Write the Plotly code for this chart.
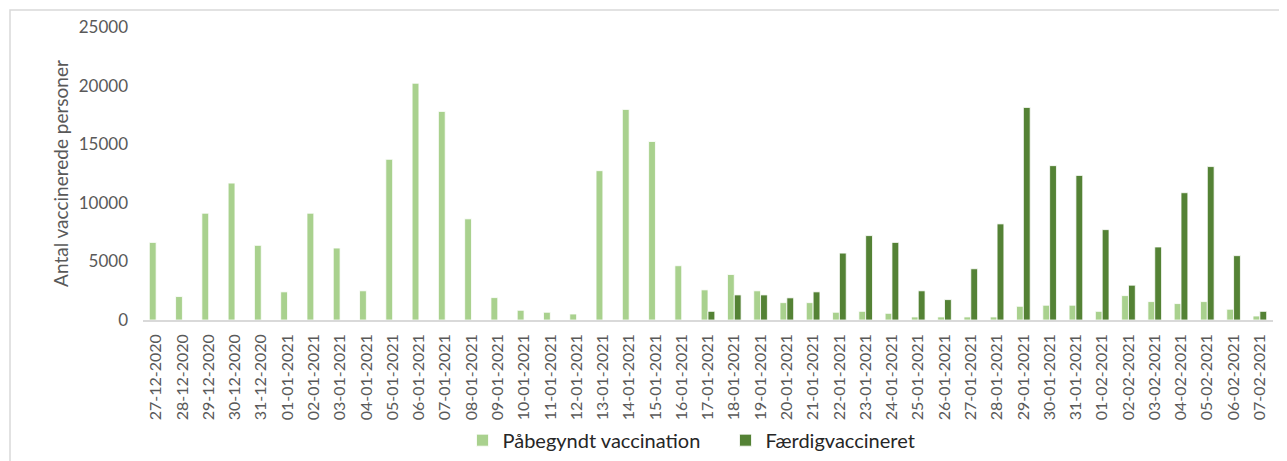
import plotly.graph_objects as go

dates = ["27-12-2020", "28-12-2020", "29-12-2020", "30-12-2020", "31-12-2020",
         "01-01-2021", "02-01-2021", "03-01-2021", "04-01-2021", "05-01-2021",
         "06-01-2021", "07-01-2021", "08-01-2021", "09-01-2021", "10-01-2021",
         "11-01-2021", "12-01-2021", "13-01-2021", "14-01-2021", "15-01-2021",
         "16-01-2021", "17-01-2021", "18-01-2021", "19-01-2021", "20-01-2021",
         "21-01-2021", "22-01-2021", "23-01-2021", "24-01-2021", "25-01-2021",
         "26-01-2021", "27-01-2021", "28-01-2021", "29-01-2021", "30-01-2021",
         "31-01-2021", "01-02-2021", "02-02-2021", "03-02-2021", "04-02-2021",
         "05-02-2021", "06-02-2021", "07-02-2021"]

paabegyndt = [6620, 2000, 9110, 11680, 6370,
              2400, 9110, 6140, 2490, 13710,
              20200, 17800, 8630, 1910, 830,
              660, 510, 12740, 17970, 15230,
              4630, 2570, 3880, 2490, 1480,
              1480, 660, 740, 570, 260,
              260, 260, 260, 1170, 1260,
              1260, 740, 2080, 1570, 1400,
              1570, 920, 340]

faerdig = [None, None, None, None, None,
           None, None, None, None, None,
           None, None, None, None, None,
           None, None, None, None, None,
           None, 740, 2140, 2140, 1890,
           2400, 5710, 7200, 6620, 2490,
           1740, 4370, 8200, 18140, 13170,
           12340, 7710, 2970, 6230, 10860,
           13090, 5490, 740]

y_ticks = [0, 5000, 10000, 15000, 20000, 25000]

FONT = "Lato, 'Open Sans', sans-serif"
GREY = "#595959"

fig = go.Figure()
fig.add_trace(go.Bar(x=dates, y=paabegyndt, name="Påbegyndt vaccination",
                     marker=dict(color="#A9D18E", line=dict(color="white", width=0.8))))
fig.add_trace(go.Bar(x=dates, y=faerdig, name="Færdigvaccineret",
                     marker=dict(color="#548235", line=dict(color="white", width=0.8))))

# page body has an 8px margin, so the figure is 8px smaller and margins shifted
fig.update_layout(
    width=1279, height=453,
    margin=dict(l=135, r=14, t=19, b=141, autoexpand=False),
    paper_bgcolor="white", plot_bgcolor="white",
    barmode="group", bargap=0.48, bargroupgap=0.0,
    font=dict(family=FONT, color=GREY),
    showlegend=True,
    legend=dict(orientation="h", x=0.5155, xanchor="center",
                yref="container", y=0.046, yanchor="middle",
                font=dict(size=20, color="#262626"), entrywidth=218, entrywidthmode="pixels"),
    shapes=[dict(type="rect", xref="paper", yref="paper",
                 x0=-0.1177, x1=1.03, y0=-0.7, y1=1.058,
                 line=dict(color="#D9D9D9", width=1.5), layer="below")],
)
fig.update_xaxes(type="category", tickangle=-90, tickfont=dict(size=16, color=GREY),
                 showline=True, linecolor="#D9D9D9", linewidth=1.5, automargin=False,
                 ticks="", showgrid=False, ticklabelstandoff=6)
fig.update_yaxes(range=[0, 25000], tickvals=y_ticks, ticktext=[str(v) for v in y_ticks],
                 showgrid=False, zeroline=False, automargin=False,
                 tickfont=dict(size=17, color=GREY), ticklabelstandoff=14,
                 title=dict(text="Antal vaccinerede personer", font=dict(size=19, color=GREY),
                            standoff=5))

fig.write_html("out.html")
